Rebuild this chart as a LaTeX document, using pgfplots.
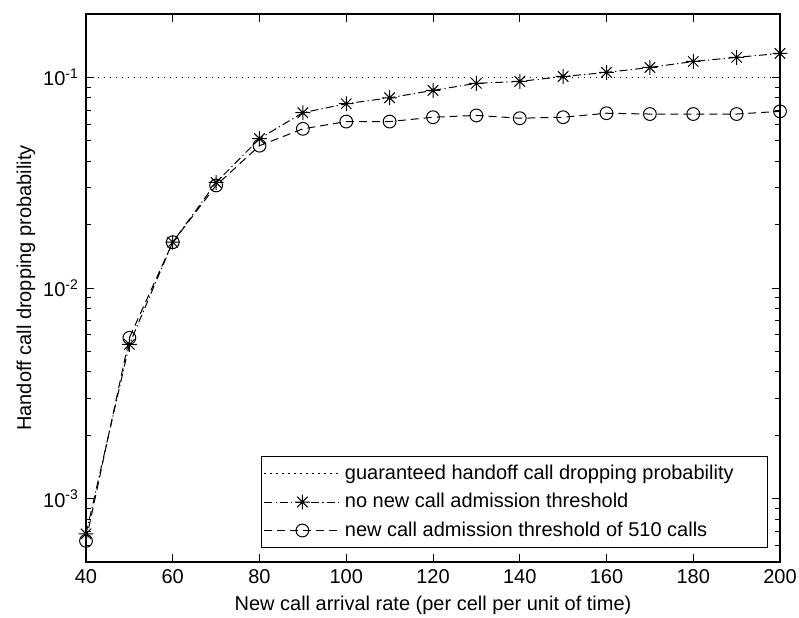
\documentclass[border=0pt]{standalone}
\usepackage{fontspec}
\setmainfont{Liberation Sans}
\usepackage{pgfplots}
\pgfplotsset{compat=1.18}

% MATLAB-style '*' marker: plus and cross together
\pgfdeclareplotmark{mstar}{%
  \pgfpathmoveto{\pgfqpoint{-\pgfplotmarksize}{0pt}}%
  \pgfpathlineto{\pgfqpoint{\pgfplotmarksize}{0pt}}%
  \pgfpathmoveto{\pgfqpoint{0pt}{-\pgfplotmarksize}}%
  \pgfpathlineto{\pgfqpoint{0pt}{\pgfplotmarksize}}%
  \pgfpathmoveto{\pgfqpoint{-0.707\pgfplotmarksize}{-0.707\pgfplotmarksize}}%
  \pgfpathlineto{\pgfqpoint{0.707\pgfplotmarksize}{0.707\pgfplotmarksize}}%
  \pgfpathmoveto{\pgfqpoint{-0.707\pgfplotmarksize}{0.707\pgfplotmarksize}}%
  \pgfpathlineto{\pgfqpoint{0.707\pgfplotmarksize}{-0.707\pgfplotmarksize}}%
  \pgfusepathqstroke}

\begin{document}
\begin{tikzpicture}
\path[use as bounding box] (-43pt,-27.5pt) rectangle (356.5pt,281pt);
\begin{axis}[
  at={(0,0)}, anchor=south west,
  scale only axis, width=347pt, height=274pt,
  xmin=40, xmax=200,
  ymode=log, ymin=5e-4, ymax=2e-1,
  xtick={40,60,...,200},
  ytick={1e-3,1e-2,1e-1},
  yticklabels={10\textsuperscript{-3},10\textsuperscript{-2},10\textsuperscript{-1}},
  minor ytick={6e-4,7e-4,8e-4,9e-4,2e-3,3e-3,4e-3,5e-3,6e-3,7e-3,8e-3,9e-3,2e-2,3e-2,4e-2,5e-2,6e-2,7e-2,8e-2,9e-2},
  /pgf/number format/assume math mode=true,
  tick align=inside, tick pos=both,
  major tick length=4pt, minor tick length=2.5pt,
  every tick/.style={black, line width=0.5pt},
  axis line style={black, line width=0.6pt},
  xlabel={New call arrival rate (per cell per unit of time)},
  ylabel={Handoff call dropping probability},
  xlabel style={at={(axis description cs:0.5,0)}, anchor=base, yshift=-24pt},
  ylabel style={at={(axis description cs:-0.0865,0.5)}, anchor=center},
  clip=false,
  legend style={at={(0.983,0.026)}, anchor=south east, draw=black, line width=0.5pt,
    inner xsep=1pt, inner ysep=2pt, row sep=1.5pt},
  legend cell align=left,
  legend image code/.code={\draw[mark repeat=2,mark phase=2,#1] plot coordinates {(0pt,0pt) (19pt,0pt) (38pt,0pt)};},
]
\addplot[black, line width=0.5pt, dash pattern=on 0.6pt off 2.4pt] coordinates {(40,0.1) (200,0.1)};
\addlegendentry{guaranteed handoff call dropping probability\hspace*{14pt}}
\addplot[black, line width=0.5pt, dash pattern=on 4pt off 1.6pt on 0.6pt off 1.6pt,
  mark=mstar, mark size=3.7pt, mark options={solid}] coordinates {
  (40,6.8e-4) (50,5.4e-3) (60,0.0165) (70,0.0317) (80,0.0512) (90,0.068) (100,0.075)
  (110,0.080) (120,0.0868) (130,0.0937) (140,0.0957) (150,0.101) (160,0.1056)
  (170,0.1115) (180,0.119) (190,0.1245) (200,0.130) };
\addlegendentry{no new call admission threshold}
\addplot[black, line width=0.5pt, dash pattern=on 4pt off 2.5pt,
  mark=o, mark size=3.2pt, mark options={solid}] coordinates {
  (40,6.3e-4) (50,5.8e-3) (60,0.0165) (70,0.0307) (80,0.0474) (90,0.057) (100,0.0617)
  (110,0.0617) (120,0.0647) (130,0.066) (140,0.064) (150,0.0647) (160,0.0676)
  (170,0.067) (180,0.067) (190,0.067) (200,0.069) };
\addlegendentry{new call admission threshold of 510 calls}
\end{axis}
\end{tikzpicture}
\end{document}
